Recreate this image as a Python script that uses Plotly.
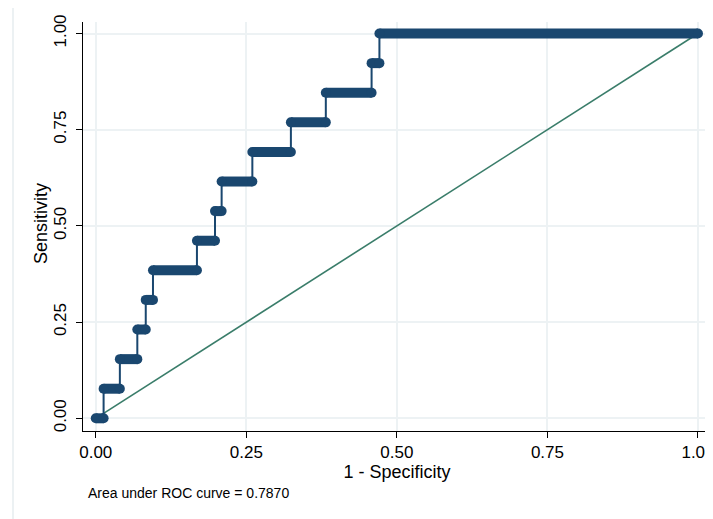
import plotly.graph_objects as go

# ROC staircase: sensitivity level and the 1-specificity span it covers
sensitivity = [0.0000, 0.0769, 0.1538, 0.2308, 0.3077, 0.3846, 0.4615,
               0.5385, 0.6154, 0.6923, 0.7692, 0.8462, 0.9231, 1.0000]
fpr_start = [0.000, 0.013, 0.040, 0.069, 0.083, 0.095, 0.168,
             0.198, 0.209, 0.260, 0.324, 0.382, 0.458, 0.471]
fpr_end = [0.013, 0.040, 0.069, 0.083, 0.095, 0.168, 0.198,
           0.209, 0.260, 0.324, 0.382, 0.458, 0.471, 1.000]

ref_x = [0, 1]
ref_y = [0, 1]

tick_vals = [0, 0.25, 0.5, 0.75, 1.0]
tick_text = ["0.00", "0.25", "0.50", "0.75", "1.00"]

auc_text = "Area under ROC curve = 0.7870"
x_title = "1 - Specificity"
y_title = "Sensitivity"

NAVY = "#1a476f"
TEAL = "#3a7d6a"
GRID = "#edf2f4"
FONT = "Liberation Sans, Arial, sans-serif"

# connecting staircase line through all points
stair_x, stair_y = [], []
for s, a, b in zip(sensitivity, fpr_start, fpr_end):
    stair_x += [a, b]
    stair_y += [s, s]

# thick horizontal bands (dense markers)
band_x, band_y = [], []
for s, a, b in zip(sensitivity, fpr_start, fpr_end):
    band_x += [a, b, None]
    band_y += [s, s, None]

end_x, end_y = [], []
for s, a, b in zip(sensitivity, fpr_start, fpr_end):
    end_x += [a, b]
    end_y += [s, s]

fig = go.Figure()
fig.add_trace(go.Scatter(x=ref_x, y=ref_y, mode="lines",
                         line=dict(color=TEAL, width=1.6), hoverinfo="skip"))
fig.add_trace(go.Scatter(x=stair_x, y=stair_y, mode="lines",
                         line=dict(color=NAVY, width=2), hoverinfo="skip"))
fig.add_trace(go.Scatter(x=band_x, y=band_y, mode="lines",
                         line=dict(color=NAVY, width=10), hoverinfo="skip"))
fig.add_trace(go.Scatter(x=end_x, y=end_y, mode="markers",
                         marker=dict(color=NAVY, size=10, line=dict(width=0)),
                         hoverinfo="skip"))

axis_common = dict(
    tickvals=tick_vals, ticktext=tick_text, automargin=False,
    showgrid=True, gridcolor=GRID, gridwidth=1.5,
    zeroline=False, showline=True, linecolor="black", linewidth=1,
    ticks="outside", ticklen=6, tickcolor="black", tickwidth=1,
    tickfont=dict(family=FONT, size=17, color="black"),
)

# page body has an 8px offset; plot area sits at x 83..711, y 22..431 of the window
fig.update_layout(
    width=713, height=519,
    margin=dict(l=75, r=10, t=14, b=96),
    paper_bgcolor="white", plot_bgcolor="white",
    showlegend=False,
    font=dict(family=FONT, color="black"),
    xaxis=dict(range=[-0.0212, 1.0216],
               title=dict(text=x_title, font=dict(size=18), standoff=2),
               **axis_common),
    yaxis=dict(range=[-0.033, 1.030], tickangle=-90, ticklabelstandoff=3,
               **axis_common),
    annotations=[
        dict(text=auc_text, xref="paper", yref="paper",
             x=(86 - 83) / 628, y=(431 - 493) / 409,
             xanchor="left", yanchor="middle", showarrow=False,
             font=dict(family=FONT, size=14, color="black")),
        dict(text=y_title, xref="paper", yref="paper",
             x=(41 - 83) / 628, y=(431 - 224) / 409, textangle=-90,
             xanchor="center", yanchor="middle", showarrow=False,
             font=dict(family=FONT, size=18, color="black")),
    ],
    shapes=[
        dict(type="line", xref="paper", yref="paper",
             x0=(13 - 83) / 628, x1=(13 - 83) / 628, y0=(431 - 527) / 409, y1=(431 - 8) / 409,
             line=dict(color="#e6ecef", width=1.5)),
    ],
)

fig.write_html("out.html")
